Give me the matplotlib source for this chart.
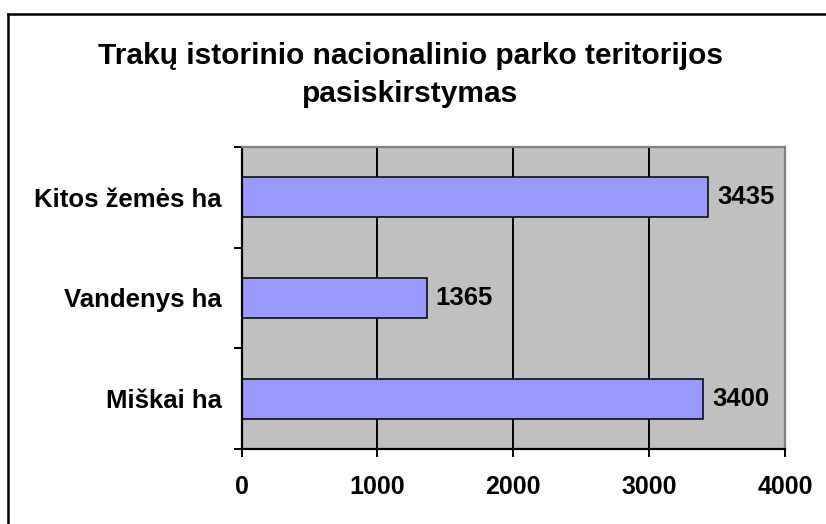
import matplotlib.pyplot as plt
from matplotlib.lines import Line2D

categories = ["Miškai ha", "Vandenys ha", "Kitos žemės ha"]
values = [3400, 1365, 3435]
title = "Trakų istorinio nacionalinio parko teritorijos\npasiskirstymas"

plt.rcParams['font.family'] = ['Liberation Sans', 'DejaVu Sans']
plt.rcParams['font.weight'] = 'bold'

fig = plt.figure(figsize=(8.26, 5.24), dpi=100)
ax = fig.add_axes([241.5/826, 1-449/524, (785-241.5)/826, (449-147)/524])

ax.set_facecolor('#C0C0C0')
ax.set_axisbelow(True)
ax.grid(axis='x', color='black', linewidth=1.4)

pos = range(len(categories))
bars = ax.barh(pos, values, height=0.4, color='#9999FF', edgecolor='black', linewidth=1.1)
for b, v in zip(bars, values):
    ax.text(b.get_width() + 65, b.get_y() + b.get_height()/2, str(v),
            va='center', ha='left', fontsize=18.5, fontweight='bold')

ax.set_xlim(0, 4000)
ax.set_ylim(-0.5, len(categories) - 0.5)
ax.set_xticks([0, 1000, 2000, 3000, 4000])
ax.set_yticks(list(pos))
ax.set_yticklabels(categories)
ax.set_yticks([-0.5, 0.5, 1.5, 2.5], minor=True)
ax.tick_params(axis='y', which='major', length=0, pad=14, labelsize=18.5)
ax.tick_params(axis='y', which='minor', length=6, width=1.4, direction='out')
ax.tick_params(axis='x', length=6, width=1.4, direction='out', pad=13, labelsize=18)

for s in ['left', 'bottom']:
    ax.spines[s].set_color('black')
    ax.spines[s].set_linewidth(1.6)
for s in ['top', 'right']:
    ax.spines[s].set_color('#808080')
    ax.spines[s].set_linewidth(1.6)

fig.text(410/826, 1-75/524, title, ha='center', va='center', fontsize=21.5,
         fontweight='bold', linespacing=1.45)

fig.add_artist(Line2D([8/826, 8/826], [0, 1-14/524], color='black', linewidth=1.8,
                      transform=fig.transFigure))
fig.add_artist(Line2D([8/826, 1], [1-14/524, 1-14/524], color='black', linewidth=1.8,
                      transform=fig.transFigure))

fig.savefig('out.png', dpi=100)
